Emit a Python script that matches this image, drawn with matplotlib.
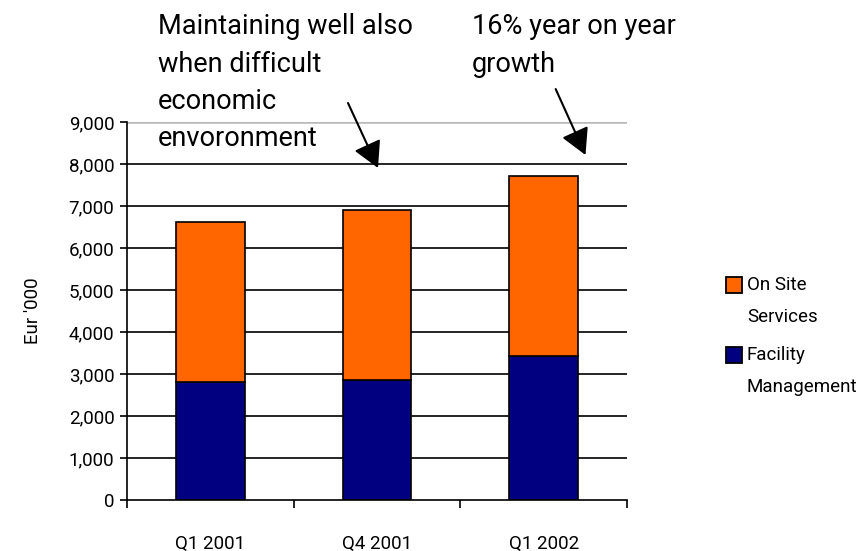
import numpy as np
import matplotlib.pyplot as plt
from matplotlib.patches import Rectangle

plt.rcParams['font.family'] = ['Roboto', 'Liberation Sans', 'DejaVu Sans']

quarters = ['Q1 2001', 'Q4 2001', 'Q1 2002']
facility = [2800, 2855, 3435]
on_site = [3815, 4050, 4280]
legend_labels = ['On Site\nServices', 'Facility\nManagement']

orange = '#FF6600'
navy = '#000080'

fig = plt.figure(figsize=(8.64, 5.51), dpi=100)
ax = fig.add_axes([127 / 864, 1 - 500 / 551, 500 / 864, 378 / 551])

x = np.arange(len(quarters))
ax.bar(x, facility, width=0.41, color=navy, edgecolor='black', linewidth=1.2, zorder=3)
ax.bar(x, on_site, width=0.41, bottom=facility, color=orange, edgecolor='black', linewidth=1.2, zorder=3)

ax.set_xlim(-0.5, 2.5)
ax.set_ylim(0, 9000)
ax.set_yticks(np.arange(0, 9001, 1000))
ax.set_yticklabels([f'{v:,}' for v in range(0, 9001, 1000)], fontsize=13.5)

# grid lines: black, the top one gray
for v in range(1000, 9000, 1000):
    ax.axhline(v, color='black', linewidth=1.2, zorder=1)
ax.axhline(9000, color='#b8b8b8', linewidth=1.8, zorder=1)

ax.set_xticks(x)
ax.set_xticklabels(quarters, fontsize=13.5)
ax.tick_params(axis='x', which='major', length=0, pad=25)
ax.set_xticks([-0.5, 0.5, 1.5, 2.5], minor=True)
ax.tick_params(axis='x', which='minor', length=6, width=1.2, direction='out')
ax.tick_params(axis='y', length=5, width=1.2, direction='out', pad=4)

for s in ['top', 'right']:
    ax.spines[s].set_visible(False)
ax.spines['left'].set_linewidth(1.2)
ax.spines['bottom'].set_linewidth(1.2)
ax.spines['bottom'].set_zorder(4)

ax.set_ylabel("Eur '000", fontsize=13.5, labelpad=19)

# annotations
fig.text(158 / 864, 1 - 13 / 551,
         'Maintaining well also\nwhen difficult\neconomic\nenvoronment',
         fontsize=19.5, va='top', ha='left', linespacing=1.5)
fig.text(472 / 864, 1 - 13 / 551, '16% year on year\ngrowth',
         fontsize=19.5, va='top', ha='left', linespacing=1.5)

arrow = dict(arrowstyle='-|>,head_length=1.0,head_width=0.55', color='black',
             lw=1.5, mutation_scale=16, shrinkA=0, shrinkB=0)
ax.annotate('', xy=(1.006, 7905), xytext=(0.826, 9452), arrowprops=arrow,
            annotation_clip=False)
ax.annotate('', xy=(2.251, 8214), xytext=(2.072, 9785), arrowprops=arrow,
            annotation_clip=False)

# legend, square beside the first line of each label
for i, (label, color) in enumerate(zip(legend_labels, [orange, navy])):
    top = 277 + i * 70
    fig.patches.append(Rectangle((726 / 864, 1 - (top + 16) / 551), 16 / 864, 16 / 551,
                                 facecolor=color, edgecolor='black', linewidth=1.3,
                                 transform=fig.transFigure, figure=fig))
    fig.text(747 / 864, 1 - (top - 1) / 551, label, fontsize=13.5, va='top',
             ha='left', linespacing=2.0)

fig.savefig('out.png', dpi=100)
